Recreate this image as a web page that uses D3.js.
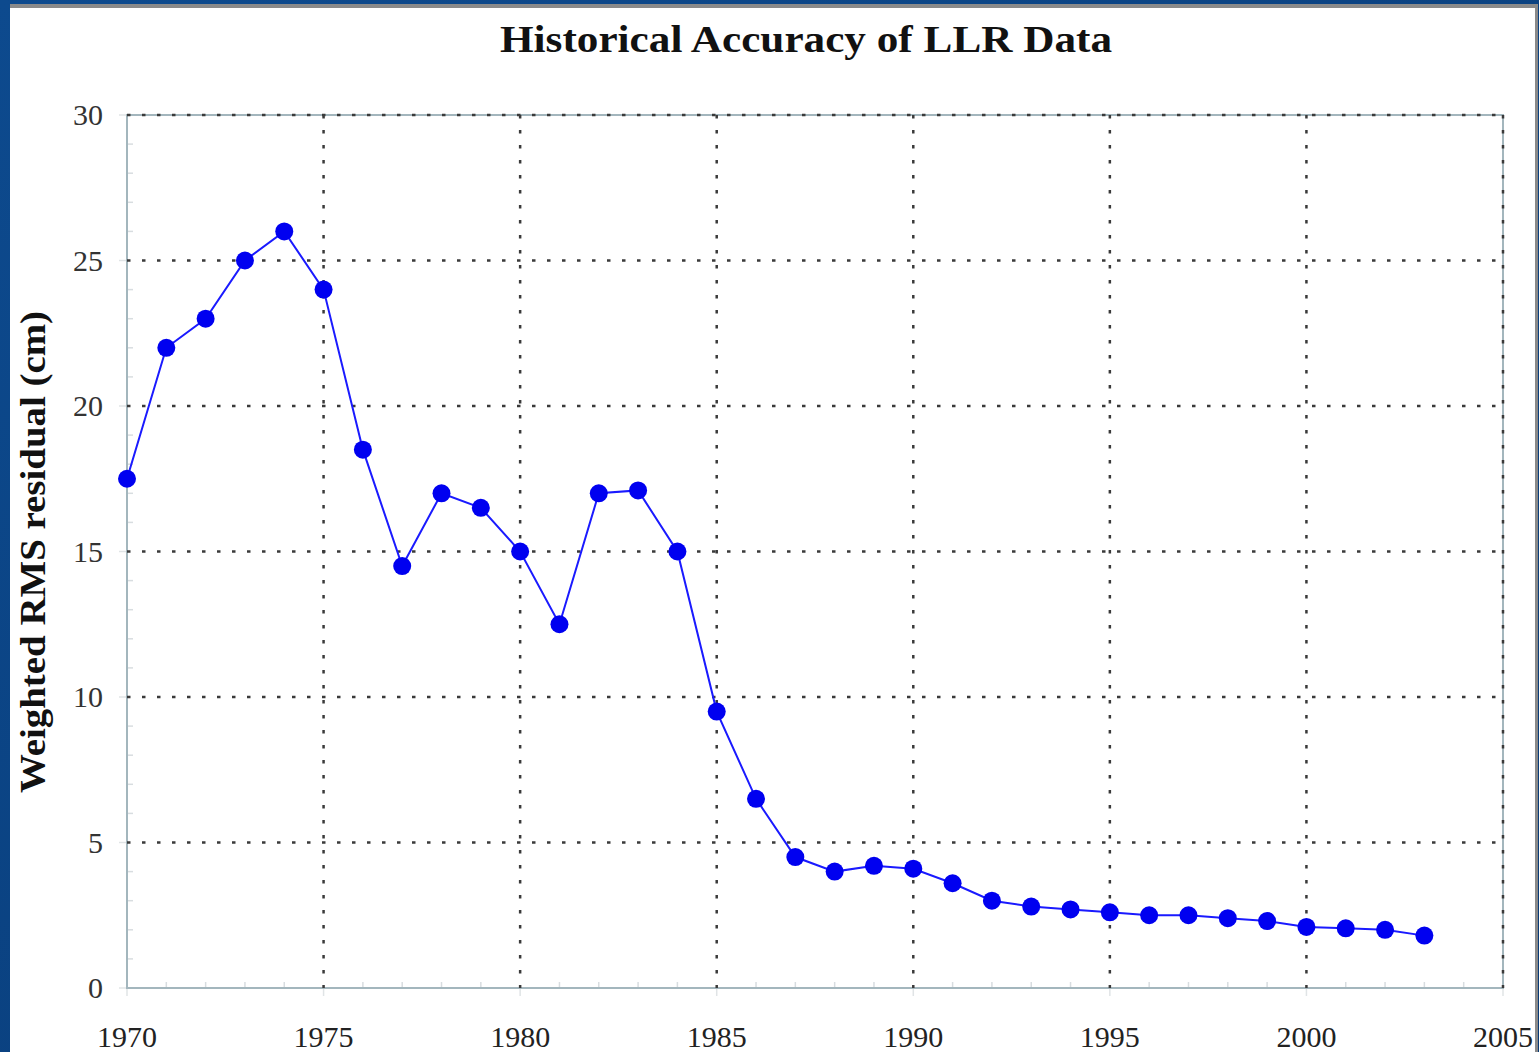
<!DOCTYPE html>
<html>
<head>
<meta charset="utf-8">
<script src="https://cdn.jsdelivr.net/npm/d3@7"></script>
<style>
  body { margin: 0; background: #0b4588; }
  svg { display: block; }
</style>
</head>
<body>
<script>
// data
var years = [1970, 1971, 1972, 1973, 1974, 1975, 1976, 1977, 1978, 1979,
             1980, 1981, 1982, 1983, 1984, 1985, 1986, 1987, 1988, 1989,
             1990, 1991, 1992, 1993, 1994, 1995, 1996, 1997, 1998, 1999,
             2000, 2001, 2002, 2003];
var rms = [17.5, 22, 23, 25, 26, 24, 18.5, 14.5, 17, 16.5,
           15, 12.5, 17, 17.1, 15, 9.5, 6.5, 4.5, 4.0, 4.2,
           4.1, 3.6, 3.0, 2.8, 2.7, 2.6, 2.5, 2.5, 2.4, 2.3,
           2.1, 2.05, 2.0, 1.8];
var xTicks = [1970, 1975, 1980, 1985, 1990, 1995, 2000, 2005];
var yTicks = [0, 5, 10, 15, 20, 25, 30];

var width = 1539, height = 1052;
var plotLeft = 127, plotRight = 1503, plotTop = 115, plotBottom = 988;

var svg = d3.select("body").append("svg")
  .attr("width", width)
  .attr("height", height);

// slide frame: blue background, grey strip, white panel
var bg = svg.append("defs").append("linearGradient")
  .attr("id", "bg").attr("x1", 0).attr("y1", 0).attr("x2", 1).attr("y2", 1);
bg.append("stop").attr("offset", "0%").attr("stop-color", "#0d4a8e");
bg.append("stop").attr("offset", "100%").attr("stop-color", "#083a75");
svg.append("rect").attr("width", width).attr("height", height).attr("fill", "url(#bg)");
svg.append("rect").attr("x", 10).attr("y", 4).attr("width", 1528).attr("height", 1048).attr("fill", "#8a8a8a");
svg.append("rect").attr("x", 10).attr("y", 8).attr("width", 1525).attr("height", 1044).attr("fill", "#ffffff");

var x = d3.scaleLinear().domain([1970, 2005]).range([plotLeft, plotRight]);
var y = d3.scaleLinear().domain([0, 30]).range([plotBottom, plotTop]);

// minor ticks (inward)
var minorX = d3.range(1971, 2005).filter(function(d) { return d % 5 !== 0; });
var minorY = d3.range(1, 30).filter(function(d) { return d % 5 !== 0; });
svg.append("g").selectAll("line").data(minorX).enter().append("line")
  .attr("x1", function(d) { return x(d); }).attr("x2", function(d) { return x(d); })
  .attr("y1", plotBottom).attr("y2", plotBottom - 6)
  .attr("stroke", "#d8dde0").attr("stroke-width", 1.5);
svg.append("g").selectAll("line").data(minorY).enter().append("line")
  .attr("y1", function(d) { return y(d); }).attr("y2", function(d) { return y(d); })
  .attr("x1", plotLeft).attr("x2", plotLeft + 6)
  .attr("stroke", "#d8dde0").attr("stroke-width", 1.5);

// major tick stubs outside
svg.append("g").selectAll("line").data(xTicks).enter().append("line")
  .attr("x1", function(d) { return x(d); }).attr("x2", function(d) { return x(d); })
  .attr("y1", plotBottom).attr("y2", plotBottom + 8)
  .attr("stroke", "#e0e4e6").attr("stroke-width", 1.5);
svg.append("g").selectAll("line").data(yTicks).enter().append("line")
  .attr("y1", function(d) { return y(d); }).attr("y2", function(d) { return y(d); })
  .attr("x1", plotLeft - 8).attr("x2", plotLeft)
  .attr("stroke", "#e0e4e6").attr("stroke-width", 1.5);

// frame
svg.append("rect")
  .attr("x", plotLeft).attr("y", plotTop)
  .attr("width", plotRight - plotLeft).attr("height", plotBottom - plotTop)
  .attr("fill", "none").attr("stroke", "#a3b6bd").attr("stroke-width", 2);

// dotted grid
svg.append("g").selectAll("line").data(xTicks.slice(1)).enter().append("line")
  .attr("x1", function(d) { return x(d); }).attr("x2", function(d) { return x(d); })
  .attr("y1", plotTop).attr("y2", plotBottom)
  .attr("stroke", "#3a3a3a").attr("stroke-width", 2.5)
  .attr("stroke-dasharray", "3.5,11.5");
svg.append("g").selectAll("line").data(yTicks.slice(1)).enter().append("line")
  .attr("y1", function(d) { return y(d); }).attr("y2", function(d) { return y(d); })
  .attr("x1", plotLeft).attr("x2", plotRight)
  .attr("stroke", "#3a3a3a").attr("stroke-width", 2.5)
  .attr("stroke-dasharray", "3.5,11.5");

// axis labels
var font = "'Liberation Serif', 'DejaVu Serif', serif";
svg.append("g").selectAll("text").data(yTicks).enter().append("text")
  .attr("x", 103).attr("y", function(d) { return y(d) + 10; })
  .attr("text-anchor", "end")
  .style("font-family", font).style("font-size", "30px").attr("fill", "#333")
  .text(function(d) { return d; });
svg.append("g").selectAll("text").data(xTicks).enter().append("text")
  .attr("x", function(d) { return x(d); }).attr("y", 1047)
  .attr("text-anchor", "middle")
  .style("font-family", font).style("font-size", "30px").attr("fill", "#222")
  .text(function(d) { return d; });

svg.append("text")
  .attr("transform", "translate(45,552) rotate(-90)")
  .attr("text-anchor", "middle")
  .attr("textLength", 482).attr("lengthAdjust", "spacingAndGlyphs")
  .style("font-family", font).style("font-size", "36px").style("font-weight", "bold")
  .attr("fill", "#111")
  .text("Weighted RMS residual (cm)");

svg.append("text")
  .attr("x", 806).attr("y", 52)
  .attr("text-anchor", "middle")
  .attr("textLength", 612).attr("lengthAdjust", "spacingAndGlyphs")
  .style("font-family", font).style("font-size", "38px").style("font-weight", "bold")
  .attr("fill", "#111")
  .text("Historical Accuracy of LLR Data");

// series
var line = d3.line()
  .x(function(d, i) { return x(years[i]); })
  .y(function(d) { return y(d); });
svg.append("path").datum(rms)
  .attr("d", line)
  .attr("fill", "none").attr("stroke", "#1a1aff").attr("stroke-width", 2);
svg.append("g").selectAll("circle").data(rms).enter().append("circle")
  .attr("cx", function(d, i) { return x(years[i]); })
  .attr("cy", function(d) { return y(d); })
  .attr("r", 9)
  .attr("fill", "#0000f0");
</script>
</body>
</html>
